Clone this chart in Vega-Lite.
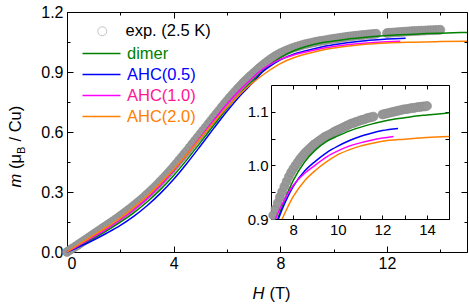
{
  "$schema": "https://vega.github.io/schema/vega-lite/v6.json",
  "width": 400,
  "height": 240,
  "autosize": {"type": "none"},
  "padding": {"left": 67, "top": 12, "right": 2, "bottom": 52},
  "background": "white",
  "config": {
    "view": {"stroke": null},
    "font": "Liberation Sans",
    "axis": {
      "grid": false,
      "domainColor": "black",
      "domainWidth": 1,
      "tickColor": "black",
      "tickWidth": 1,
      "labelColor": "black",
      "titleColor": "black",
      "labelFont": "Liberation Sans",
      "titleFont": "Liberation Sans",
      "titleFontWeight": "normal"
    },
    "legend": {"labelFont": "Liberation Sans"}
  },
  "datasets": {
    "exp": [
      {"series": "exp. (2.5 K)", "H": 0.0, "m": 0.000},
      {"series": "exp. (2.5 K)", "H": 0.1, "m": 0.009},
      {"series": "exp. (2.5 K)", "H": 0.2, "m": 0.018},
      {"series": "exp. (2.5 K)", "H": 0.3, "m": 0.026},
      {"series": "exp. (2.5 K)", "H": 0.4, "m": 0.035},
      {"series": "exp. (2.5 K)", "H": 0.5, "m": 0.044},
      {"series": "exp. (2.5 K)", "H": 0.6, "m": 0.053},
      {"series": "exp. (2.5 K)", "H": 0.7, "m": 0.062},
      {"series": "exp. (2.5 K)", "H": 0.8, "m": 0.071},
      {"series": "exp. (2.5 K)", "H": 0.9, "m": 0.080},
      {"series": "exp. (2.5 K)", "H": 1.0, "m": 0.089},
      {"series": "exp. (2.5 K)", "H": 1.1, "m": 0.098},
      {"series": "exp. (2.5 K)", "H": 1.2, "m": 0.107},
      {"series": "exp. (2.5 K)", "H": 1.3, "m": 0.116},
      {"series": "exp. (2.5 K)", "H": 1.4, "m": 0.125},
      {"series": "exp. (2.5 K)", "H": 1.5, "m": 0.134},
      {"series": "exp. (2.5 K)", "H": 1.6, "m": 0.143},
      {"series": "exp. (2.5 K)", "H": 1.7, "m": 0.152},
      {"series": "exp. (2.5 K)", "H": 1.8, "m": 0.161},
      {"series": "exp. (2.5 K)", "H": 1.9, "m": 0.170},
      {"series": "exp. (2.5 K)", "H": 2.0, "m": 0.180},
      {"series": "exp. (2.5 K)", "H": 2.1, "m": 0.190},
      {"series": "exp. (2.5 K)", "H": 2.2, "m": 0.200},
      {"series": "exp. (2.5 K)", "H": 2.3, "m": 0.210},
      {"series": "exp. (2.5 K)", "H": 2.4, "m": 0.220},
      {"series": "exp. (2.5 K)", "H": 2.5, "m": 0.231},
      {"series": "exp. (2.5 K)", "H": 2.6, "m": 0.242},
      {"series": "exp. (2.5 K)", "H": 2.7, "m": 0.253},
      {"series": "exp. (2.5 K)", "H": 2.8, "m": 0.264},
      {"series": "exp. (2.5 K)", "H": 2.9, "m": 0.276},
      {"series": "exp. (2.5 K)", "H": 3.0, "m": 0.288},
      {"series": "exp. (2.5 K)", "H": 3.1, "m": 0.300},
      {"series": "exp. (2.5 K)", "H": 3.2, "m": 0.313},
      {"series": "exp. (2.5 K)", "H": 3.3, "m": 0.326},
      {"series": "exp. (2.5 K)", "H": 3.4, "m": 0.339},
      {"series": "exp. (2.5 K)", "H": 3.5, "m": 0.353},
      {"series": "exp. (2.5 K)", "H": 3.6, "m": 0.367},
      {"series": "exp. (2.5 K)", "H": 3.7, "m": 0.381},
      {"series": "exp. (2.5 K)", "H": 3.8, "m": 0.396},
      {"series": "exp. (2.5 K)", "H": 3.9, "m": 0.411},
      {"series": "exp. (2.5 K)", "H": 4.0, "m": 0.426},
      {"series": "exp. (2.5 K)", "H": 4.1, "m": 0.442},
      {"series": "exp. (2.5 K)", "H": 4.2, "m": 0.458},
      {"series": "exp. (2.5 K)", "H": 4.3, "m": 0.474},
      {"series": "exp. (2.5 K)", "H": 4.4, "m": 0.490},
      {"series": "exp. (2.5 K)", "H": 4.5, "m": 0.506},
      {"series": "exp. (2.5 K)", "H": 4.6, "m": 0.523},
      {"series": "exp. (2.5 K)", "H": 4.7, "m": 0.540},
      {"series": "exp. (2.5 K)", "H": 4.8, "m": 0.557},
      {"series": "exp. (2.5 K)", "H": 4.9, "m": 0.573},
      {"series": "exp. (2.5 K)", "H": 5.0, "m": 0.590},
      {"series": "exp. (2.5 K)", "H": 5.1, "m": 0.607},
      {"series": "exp. (2.5 K)", "H": 5.2, "m": 0.623},
      {"series": "exp. (2.5 K)", "H": 5.3, "m": 0.640},
      {"series": "exp. (2.5 K)", "H": 5.4, "m": 0.657},
      {"series": "exp. (2.5 K)", "H": 5.5, "m": 0.674},
      {"series": "exp. (2.5 K)", "H": 5.6, "m": 0.691},
      {"series": "exp. (2.5 K)", "H": 5.7, "m": 0.707},
      {"series": "exp. (2.5 K)", "H": 5.8, "m": 0.724},
      {"series": "exp. (2.5 K)", "H": 5.9, "m": 0.740},
      {"series": "exp. (2.5 K)", "H": 6.0, "m": 0.756},
      {"series": "exp. (2.5 K)", "H": 6.1, "m": 0.772},
      {"series": "exp. (2.5 K)", "H": 6.2, "m": 0.787},
      {"series": "exp. (2.5 K)", "H": 6.3, "m": 0.802},
      {"series": "exp. (2.5 K)", "H": 6.4, "m": 0.817},
      {"series": "exp. (2.5 K)", "H": 6.5, "m": 0.831},
      {"series": "exp. (2.5 K)", "H": 6.6, "m": 0.845},
      {"series": "exp. (2.5 K)", "H": 6.7, "m": 0.858},
      {"series": "exp. (2.5 K)", "H": 6.8, "m": 0.871},
      {"series": "exp. (2.5 K)", "H": 6.9, "m": 0.883},
      {"series": "exp. (2.5 K)", "H": 7.0, "m": 0.895},
      {"series": "exp. (2.5 K)", "H": 7.1, "m": 0.907},
      {"series": "exp. (2.5 K)", "H": 7.2, "m": 0.919},
      {"series": "exp. (2.5 K)", "H": 7.3, "m": 0.930},
      {"series": "exp. (2.5 K)", "H": 7.4, "m": 0.941},
      {"series": "exp. (2.5 K)", "H": 7.5, "m": 0.951},
      {"series": "exp. (2.5 K)", "H": 7.6, "m": 0.961},
      {"series": "exp. (2.5 K)", "H": 7.7, "m": 0.970},
      {"series": "exp. (2.5 K)", "H": 7.8, "m": 0.979},
      {"series": "exp. (2.5 K)", "H": 7.9, "m": 0.987},
      {"series": "exp. (2.5 K)", "H": 8.0, "m": 0.994},
      {"series": "exp. (2.5 K)", "H": 8.1, "m": 1.000},
      {"series": "exp. (2.5 K)", "H": 8.2, "m": 1.006},
      {"series": "exp. (2.5 K)", "H": 8.3, "m": 1.012},
      {"series": "exp. (2.5 K)", "H": 8.4, "m": 1.017},
      {"series": "exp. (2.5 K)", "H": 8.5, "m": 1.022},
      {"series": "exp. (2.5 K)", "H": 8.6, "m": 1.026},
      {"series": "exp. (2.5 K)", "H": 8.7, "m": 1.030},
      {"series": "exp. (2.5 K)", "H": 8.8, "m": 1.034},
      {"series": "exp. (2.5 K)", "H": 8.9, "m": 1.038},
      {"series": "exp. (2.5 K)", "H": 9.0, "m": 1.041},
      {"series": "exp. (2.5 K)", "H": 9.1, "m": 1.044},
      {"series": "exp. (2.5 K)", "H": 9.2, "m": 1.047},
      {"series": "exp. (2.5 K)", "H": 9.3, "m": 1.050},
      {"series": "exp. (2.5 K)", "H": 9.4, "m": 1.053},
      {"series": "exp. (2.5 K)", "H": 9.5, "m": 1.055},
      {"series": "exp. (2.5 K)", "H": 9.6, "m": 1.057},
      {"series": "exp. (2.5 K)", "H": 9.7, "m": 1.059},
      {"series": "exp. (2.5 K)", "H": 9.8, "m": 1.062},
      {"series": "exp. (2.5 K)", "H": 9.9, "m": 1.064},
      {"series": "exp. (2.5 K)", "H": 10.0, "m": 1.066},
      {"series": "exp. (2.5 K)", "H": 10.1, "m": 1.068},
      {"series": "exp. (2.5 K)", "H": 10.2, "m": 1.070},
      {"series": "exp. (2.5 K)", "H": 10.3, "m": 1.072},
      {"series": "exp. (2.5 K)", "H": 10.4, "m": 1.074},
      {"series": "exp. (2.5 K)", "H": 10.5, "m": 1.076},
      {"series": "exp. (2.5 K)", "H": 10.6, "m": 1.078},
      {"series": "exp. (2.5 K)", "H": 10.7, "m": 1.079},
      {"series": "exp. (2.5 K)", "H": 10.8, "m": 1.081},
      {"series": "exp. (2.5 K)", "H": 10.9, "m": 1.082},
      {"series": "exp. (2.5 K)", "H": 11.0, "m": 1.084},
      {"series": "exp. (2.5 K)", "H": 11.1, "m": 1.085},
      {"series": "exp. (2.5 K)", "H": 11.2, "m": 1.086},
      {"series": "exp. (2.5 K)", "H": 11.3, "m": 1.088},
      {"series": "exp. (2.5 K)", "H": 11.4, "m": 1.089},
      {"series": "exp. (2.5 K)", "H": 11.5, "m": 1.090},
      {"series": "exp. (2.5 K)", "H": 11.6, "m": 1.091},
      {"series": "exp. (2.5 K)", "H": 12.0, "m": 1.095},
      {"series": "exp. (2.5 K)", "H": 12.1, "m": 1.096},
      {"series": "exp. (2.5 K)", "H": 12.2, "m": 1.097},
      {"series": "exp. (2.5 K)", "H": 12.3, "m": 1.098},
      {"series": "exp. (2.5 K)", "H": 12.4, "m": 1.099},
      {"series": "exp. (2.5 K)", "H": 12.5, "m": 1.100},
      {"series": "exp. (2.5 K)", "H": 12.6, "m": 1.101},
      {"series": "exp. (2.5 K)", "H": 12.7, "m": 1.102},
      {"series": "exp. (2.5 K)", "H": 12.8, "m": 1.103},
      {"series": "exp. (2.5 K)", "H": 12.9, "m": 1.104},
      {"series": "exp. (2.5 K)", "H": 13.0, "m": 1.105},
      {"series": "exp. (2.5 K)", "H": 13.1, "m": 1.105},
      {"series": "exp. (2.5 K)", "H": 13.2, "m": 1.106},
      {"series": "exp. (2.5 K)", "H": 13.3, "m": 1.107},
      {"series": "exp. (2.5 K)", "H": 13.4, "m": 1.107},
      {"series": "exp. (2.5 K)", "H": 13.5, "m": 1.108},
      {"series": "exp. (2.5 K)", "H": 13.6, "m": 1.109},
      {"series": "exp. (2.5 K)", "H": 13.7, "m": 1.109},
      {"series": "exp. (2.5 K)", "H": 13.8, "m": 1.110},
      {"series": "exp. (2.5 K)", "H": 13.9, "m": 1.110},
      {"series": "exp. (2.5 K)", "H": 14.0, "m": 1.111}
    ],
    "calc": [
      {"series": "dimer", "H": 0.0, "m": 0.000},
      {"series": "dimer", "H": 0.5, "m": 0.033},
      {"series": "dimer", "H": 1.0, "m": 0.069},
      {"series": "dimer", "H": 1.5, "m": 0.107},
      {"series": "dimer", "H": 2.0, "m": 0.149},
      {"series": "dimer", "H": 2.5, "m": 0.196},
      {"series": "dimer", "H": 3.0, "m": 0.250},
      {"series": "dimer", "H": 3.5, "m": 0.312},
      {"series": "dimer", "H": 4.0, "m": 0.383},
      {"series": "dimer", "H": 4.5, "m": 0.462},
      {"series": "dimer", "H": 5.0, "m": 0.547},
      {"series": "dimer", "H": 5.5, "m": 0.633},
      {"series": "dimer", "H": 6.0, "m": 0.718},
      {"series": "dimer", "H": 6.5, "m": 0.795},
      {"series": "dimer", "H": 7.0, "m": 0.862},
      {"series": "dimer", "H": 7.3, "m": 0.900},
      {"series": "dimer", "H": 7.5, "m": 0.924},
      {"series": "dimer", "H": 8.0, "m": 0.972},
      {"series": "dimer", "H": 8.5, "m": 1.006},
      {"series": "dimer", "H": 9.0, "m": 1.029},
      {"series": "dimer", "H": 9.5, "m": 1.045},
      {"series": "dimer", "H": 10.0, "m": 1.055},
      {"series": "dimer", "H": 10.5, "m": 1.064},
      {"series": "dimer", "H": 11.0, "m": 1.071},
      {"series": "dimer", "H": 11.5, "m": 1.077},
      {"series": "dimer", "H": 12.0, "m": 1.082},
      {"series": "dimer", "H": 12.5, "m": 1.086},
      {"series": "dimer", "H": 13.0, "m": 1.089},
      {"series": "dimer", "H": 13.5, "m": 1.092},
      {"series": "dimer", "H": 14.0, "m": 1.094},
      {"series": "dimer", "H": 14.5, "m": 1.096},
      {"series": "dimer", "H": 15.0, "m": 1.098},
      {"series": "AHC(0.5)", "H": 0.0, "m": 0.000},
      {"series": "AHC(0.5)", "H": 0.5, "m": 0.028},
      {"series": "AHC(0.5)", "H": 1.0, "m": 0.060},
      {"series": "AHC(0.5)", "H": 1.5, "m": 0.095},
      {"series": "AHC(0.5)", "H": 2.0, "m": 0.133},
      {"series": "AHC(0.5)", "H": 2.5, "m": 0.178},
      {"series": "AHC(0.5)", "H": 3.0, "m": 0.231},
      {"series": "AHC(0.5)", "H": 3.5, "m": 0.293},
      {"series": "AHC(0.5)", "H": 4.0, "m": 0.364},
      {"series": "AHC(0.5)", "H": 4.5, "m": 0.444},
      {"series": "AHC(0.5)", "H": 5.0, "m": 0.530},
      {"series": "AHC(0.5)", "H": 5.5, "m": 0.618},
      {"series": "AHC(0.5)", "H": 6.0, "m": 0.704},
      {"series": "AHC(0.5)", "H": 6.5, "m": 0.783},
      {"series": "AHC(0.5)", "H": 7.0, "m": 0.851},
      {"series": "AHC(0.5)", "H": 7.33, "m": 0.900},
      {"series": "AHC(0.5)", "H": 7.5, "m": 0.918},
      {"series": "AHC(0.5)", "H": 8.0, "m": 0.961},
      {"series": "AHC(0.5)", "H": 8.5, "m": 0.989},
      {"series": "AHC(0.5)", "H": 9.0, "m": 1.008},
      {"series": "AHC(0.5)", "H": 9.5, "m": 1.024},
      {"series": "AHC(0.5)", "H": 10.0, "m": 1.036},
      {"series": "AHC(0.5)", "H": 10.5, "m": 1.046},
      {"series": "AHC(0.5)", "H": 11.0, "m": 1.054},
      {"series": "AHC(0.5)", "H": 11.5, "m": 1.060},
      {"series": "AHC(0.5)", "H": 12.0, "m": 1.065},
      {"series": "AHC(0.5)", "H": 12.7, "m": 1.069},
      {"series": "AHC(1.0)", "H": 0.0, "m": 0.000},
      {"series": "AHC(1.0)", "H": 0.5, "m": 0.037},
      {"series": "AHC(1.0)", "H": 1.0, "m": 0.076},
      {"series": "AHC(1.0)", "H": 1.5, "m": 0.116},
      {"series": "AHC(1.0)", "H": 2.0, "m": 0.160},
      {"series": "AHC(1.0)", "H": 2.5, "m": 0.210},
      {"series": "AHC(1.0)", "H": 3.0, "m": 0.267},
      {"series": "AHC(1.0)", "H": 3.5, "m": 0.333},
      {"series": "AHC(1.0)", "H": 4.0, "m": 0.407},
      {"series": "AHC(1.0)", "H": 4.5, "m": 0.488},
      {"series": "AHC(1.0)", "H": 5.0, "m": 0.573},
      {"series": "AHC(1.0)", "H": 5.5, "m": 0.658},
      {"series": "AHC(1.0)", "H": 6.0, "m": 0.740},
      {"series": "AHC(1.0)", "H": 6.5, "m": 0.812},
      {"series": "AHC(1.0)", "H": 7.0, "m": 0.875},
      {"series": "AHC(1.0)", "H": 7.2, "m": 0.900},
      {"series": "AHC(1.0)", "H": 7.5, "m": 0.928},
      {"series": "AHC(1.0)", "H": 8.0, "m": 0.963},
      {"series": "AHC(1.0)", "H": 8.5, "m": 0.985},
      {"series": "AHC(1.0)", "H": 9.0, "m": 1.001},
      {"series": "AHC(1.0)", "H": 9.5, "m": 1.016},
      {"series": "AHC(1.0)", "H": 10.0, "m": 1.027},
      {"series": "AHC(1.0)", "H": 10.5, "m": 1.036},
      {"series": "AHC(1.0)", "H": 11.0, "m": 1.042},
      {"series": "AHC(1.0)", "H": 11.5, "m": 1.047},
      {"series": "AHC(1.0)", "H": 12.0, "m": 1.051},
      {"series": "AHC(1.0)", "H": 12.5, "m": 1.054},
      {"series": "AHC(2.0)", "H": 0.0, "m": 0.000},
      {"series": "AHC(2.0)", "H": 0.5, "m": 0.042},
      {"series": "AHC(2.0)", "H": 1.0, "m": 0.083},
      {"series": "AHC(2.0)", "H": 1.5, "m": 0.125},
      {"series": "AHC(2.0)", "H": 2.0, "m": 0.170},
      {"series": "AHC(2.0)", "H": 2.5, "m": 0.222},
      {"series": "AHC(2.0)", "H": 3.0, "m": 0.279},
      {"series": "AHC(2.0)", "H": 3.5, "m": 0.343},
      {"series": "AHC(2.0)", "H": 4.0, "m": 0.413},
      {"series": "AHC(2.0)", "H": 4.5, "m": 0.489},
      {"series": "AHC(2.0)", "H": 5.0, "m": 0.568},
      {"series": "AHC(2.0)", "H": 5.5, "m": 0.647},
      {"series": "AHC(2.0)", "H": 6.0, "m": 0.722},
      {"series": "AHC(2.0)", "H": 6.5, "m": 0.792},
      {"series": "AHC(2.0)", "H": 7.0, "m": 0.850},
      {"series": "AHC(2.0)", "H": 7.5, "m": 0.900},
      {"series": "AHC(2.0)", "H": 8.0, "m": 0.942},
      {"series": "AHC(2.0)", "H": 8.5, "m": 0.971},
      {"series": "AHC(2.0)", "H": 9.0, "m": 0.991},
      {"series": "AHC(2.0)", "H": 9.5, "m": 1.007},
      {"series": "AHC(2.0)", "H": 10.0, "m": 1.020},
      {"series": "AHC(2.0)", "H": 10.5, "m": 1.029},
      {"series": "AHC(2.0)", "H": 11.0, "m": 1.036},
      {"series": "AHC(2.0)", "H": 11.5, "m": 1.041},
      {"series": "AHC(2.0)", "H": 12.0, "m": 1.045},
      {"series": "AHC(2.0)", "H": 13.0, "m": 1.049},
      {"series": "AHC(2.0)", "H": 14.0, "m": 1.052},
      {"series": "AHC(2.0)", "H": 15.0, "m": 1.054}
    ]
  },
  "resolve": {
    "scale": {"x": "independent", "y": "independent", "color": "independent", "shape": "independent"},
    "axis": {"x": "independent", "y": "independent"}
  },
  "layer": [
    {
      "data": {"name": "exp"},
      "mark": {"type": "point", "filled": true, "size": 80, "fill": "#989898", "stroke": "#8c8c8c", "strokeWidth": 0.6, "opacity": 1},
      "encoding": {
        "x": {
          "field": "H", "type": "quantitative",
          "scale": {"domain": [0, 15], "nice": false, "zero": false},
          "axis": {
            "orient": "bottom", "values": [0, 2, 4, 6, 8, 10, 12, 14],
            "labelExpr": "datum.value % 4 === 0 ? datum.label : ''",
            "tickSize": {"condition": {"test": "datum.value % 4 === 0", "value": -6}, "value": -3},
            "labelPadding": 9, "labelFontSize": 16,
            "title": "H", "titleFontSize": 16.5, "titleFontStyle": "italic",
            "titleX": 185, "titleY": 46, "titleAlign": "left", "titleBaseline": "alphabetic"
          }
        },
        "y": {
          "field": "m", "type": "quantitative",
          "scale": {"domain": [0, 1.2], "nice": false},
          "axis": {
            "orient": "left", "values": [0, 0.15, 0.3, 0.45, 0.6, 0.75, 0.9, 1.05, 1.2],
            "format": ".1f",
            "labelExpr": "round(datum.value / 0.15) % 2 === 0 ? datum.label : ''",
            "tickSize": {"condition": {"test": "round(datum.value / 0.15) % 2 === 0", "value": -6}, "value": -3},
            "labelPadding": 10, "labelFontSize": 16,
            "title": "m", "titleFontSize": 16.5, "titleFontStyle": "italic",
            "titleX": -47, "titleY": 175, "titleAngle": -90, "titleAlign": "left", "titleBaseline": "alphabetic"
          }
        }
      }
    },
    {
      "data": {"name": "calc"},
      "mark": {"type": "line", "strokeWidth": 1.5, "interpolate": "monotone"},
      "encoding": {
        "x": {
          "field": "H", "type": "quantitative",
          "scale": {"domain": [0, 15], "nice": false, "zero": false},
          "axis": {
            "orient": "top", "values": [0, 2, 4, 6, 8, 10, 12, 14], "labels": false, "title": null,
            "tickSize": {"condition": {"test": "datum.value % 4 === 0", "value": -6}, "value": -3}
          }
        },
        "y": {
          "field": "m", "type": "quantitative",
          "scale": {"domain": [0, 1.2], "nice": false},
          "axis": {
            "orient": "right", "values": [0, 0.15, 0.3, 0.45, 0.6, 0.75, 0.9, 1.05, 1.2], "labels": false, "title": null,
            "tickSize": {"condition": {"test": "round(datum.value / 0.15) % 2 === 0", "value": -6}, "value": -3}
          }
        },
        "color": {
          "field": "series", "type": "nominal",
          "scale": {"domain": ["dimer", "AHC(0.5)", "AHC(1.0)", "AHC(2.0)"], "range": ["#008000", "#0000ff", "#ff00ff", "#ff8000"]},
          "legend": {
            "orient": "none", "legendX": 24, "legendY": 31, "title": null, "padding": 0,
            "symbolType": "M-2,0H2", "symbolSize": 361, "symbolStrokeWidth": 1.5,
            "labelFontSize": 16.5, "labelOffset": 15, "rowPadding": 2,
            "labelColor": {"expr": "datum.label === 'dimer' ? '#008000' : datum.label === 'AHC(0.5)' ? '#0000ff' : datum.label === 'AHC(1.0)' ? '#ff1493' : '#ff8000'"}
          }
        }
      }
    },
    {
      "data": {"name": "exp"},
      "transform": [{"filter": "datum.H >= 7.05 && datum.m >= 0.9"}],
      "mark": {"type": "point", "filled": true, "size": 80, "fill": "#989898", "stroke": "#8c8c8c", "strokeWidth": 0.6, "opacity": 1},
      "encoding": {
        "x": {
          "field": "H", "type": "quantitative",
          "scale": {"domain": [7, 15], "range": [204, 382.3], "nice": false, "zero": false},
          "axis": {
            "orient": "bottom", "offset": -33, "values": [8, 9, 10, 11, 12, 13, 14],
            "labelExpr": "datum.value % 2 === 0 ? datum.label : ''",
            "tickSize": -4, "labelPadding": 7, "labelFontSize": 15, "title": null
          }
        },
        "y": {
          "field": "m", "type": "quantitative",
          "scale": {"domain": [0.9, 1.15], "range": [207, 73], "nice": false, "zero": false},
          "axis": {
            "orient": "left", "offset": -204, "values": [0.9, 0.95, 1.0, 1.05, 1.1],
            "format": ".1f",
            "labelExpr": "round(datum.value / 0.05) % 2 === 0 ? datum.label : ''",
            "tickSize": -4, "labelPadding": 7, "labelFontSize": 15, "title": null
          }
        }
      }
    },
    {
      "data": {"name": "calc"},
      "transform": [{"filter": "datum.H >= 7 && datum.m >= 0.8999"}],
      "mark": {"type": "line", "strokeWidth": 1.5, "interpolate": "monotone"},
      "encoding": {
        "x": {
          "field": "H", "type": "quantitative",
          "scale": {"domain": [7, 15], "range": [204, 382.3], "nice": false, "zero": false},
          "axis": {
            "orient": "top", "offset": -73, "values": [8, 9, 10, 11, 12, 13, 14],
            "labels": false, "tickSize": -4, "title": null
          }
        },
        "y": {
          "field": "m", "type": "quantitative",
          "scale": {"domain": [0.9, 1.15], "range": [207, 73], "nice": false, "zero": false},
          "axis": {
            "orient": "right", "offset": -18, "values": [0.9, 0.95, 1.0, 1.05, 1.1],
            "labels": false, "tickSize": -4, "title": null
          }
        },
        "color": {
          "field": "series", "type": "nominal",
          "scale": {"domain": ["dimer", "AHC(0.5)", "AHC(1.0)", "AHC(2.0)"], "range": ["#008000", "#0000ff", "#ff00ff", "#ff8000"]},
          "legend": null
        }
      }
    },
    {
      "data": {"name": "exp"},
      "transform": [{"filter": "datum.H < 0"}],
      "mark": {"type": "point", "filled": false, "size": 80, "stroke": "#c4c4c4", "strokeWidth": 1, "opacity": 1},
      "encoding": {
        "x": {
          "field": "H", "type": "quantitative",
          "scale": {"domain": [0, 15], "nice": false, "zero": false},
          "axis": {
            "orient": "bottom", "domain": false, "ticks": false, "labels": false,
            "title": "(T)", "titleFontSize": 16.5,
            "titleX": 202, "titleY": 46, "titleAlign": "left", "titleBaseline": "alphabetic"
          }
        },
        "y": {
          "field": "m", "type": "quantitative",
          "scale": {"domain": [0, 1.2], "nice": false},
          "axis": {
            "orient": "left", "domain": false, "ticks": false, "labels": false,
            "title": "(μ", "titleFontSize": 16.5,
            "titleX": -47, "titleY": 156.5, "titleAngle": -90, "titleAlign": "left", "titleBaseline": "alphabetic"
          }
        },
        "shape": {
          "field": "series", "type": "nominal",
          "scale": {"domain": ["exp. (2.5 K)"], "range": ["circle"]},
          "legend": {
            "orient": "none", "legendX": 27, "legendY": 11, "title": null, "padding": 0,
            "symbolSize": 80, "symbolStrokeWidth": 1, "symbolStrokeColor": "#c4c4c4", "symbolFillColor": "white",
            "labelFontSize": 16.5, "labelColor": "black", "labelOffset": 15
          }
        }
      }
    },
    {
      "data": {"name": "exp"},
      "transform": [{"filter": "datum.H < 0"}],
      "mark": {"type": "point"},
      "encoding": {
        "y": {
          "field": "m", "type": "quantitative",
          "scale": {"domain": [0, 1.2], "nice": false},
          "axis": {
            "orient": "left", "domain": false, "ticks": false, "labels": false,
            "title": "B", "titleFontSize": 11,
            "titleX": -43, "titleY": 141.5, "titleAngle": -90, "titleAlign": "left", "titleBaseline": "alphabetic"
          }
        }
      }
    },
    {
      "data": {"name": "exp"},
      "transform": [{"filter": "datum.H < 0"}],
      "mark": {"type": "point"},
      "encoding": {
        "y": {
          "field": "m", "type": "quantitative",
          "scale": {"domain": [0, 1.2], "nice": false},
          "axis": {
            "orient": "left", "domain": false, "ticks": false, "labels": false,
            "title": "/ Cu)", "titleFontSize": 16.5,
            "titleX": -47, "titleY": 129, "titleAngle": -90, "titleAlign": "left", "titleBaseline": "alphabetic"
          }
        }
      }
    }
  ]
}
